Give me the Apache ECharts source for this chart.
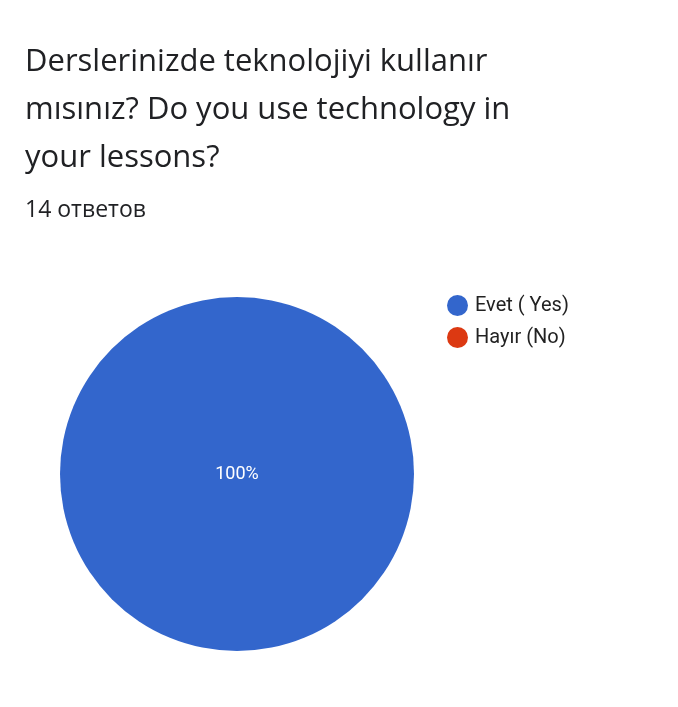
<!DOCTYPE html>
<html>
<head>
<meta charset="utf-8">
<script src="https://cdn.jsdelivr.net/npm/echarts@6/dist/echarts.min.js"></script>
<style>html,body{margin:0;padding:0;background:#fff;}#c{width:678px;height:707px;}</style>
</head>
<body>
<div id="c"></div>
<script>
const titleText = "Derslerinizde teknolojiyi kullanır\nmısınız? Do you use technology in\nyour lessons?";
const subtitleText = "14 ответов";
const categories = ["Evet ( Yes)", "Hayır (No)"];
const values = [14, 0];
const colors = ["#3366cc", "#dc3912"];

const chart = echarts.init(document.getElementById('c'));
chart.setOption({
  animation: false,
  color: colors,
  title: [
    { text: titleText, left: 20, top: 33,
      textStyle: { fontFamily: 'Open Sans', fontSize: 31, fontWeight: 'normal', color: '#202124', lineHeight: 48 } },
    { text: subtitleText, left: 20, top: 194,
      textStyle: { fontFamily: 'Open Sans', fontSize: 23, fontWeight: 'normal', color: '#202124' } }
  ],
  legend: {
    orient: 'vertical', left: 442, top: 290,
    icon: 'circle', itemWidth: 21, itemHeight: 21, itemGap: 11,
    itemStyle: { borderWidth: 0 },
    textStyle: { fontFamily: 'Roboto', fontSize: 20, color: '#222', padding: [0, 0, 0, 2] },
    data: categories
  },
  series: [{
    type: 'pie',
    center: [237, 474],
    radius: 177,
    startAngle: 90,
    label: {
      position: 'center', color: '#fff', fontFamily: 'Roboto', fontSize: 18,
      formatter: p => p.percent > 0 ? Math.round(p.percent) + '%' : ''
    },
    labelLine: { show: false },
    itemStyle: { borderWidth: 0 },
    emphasis: { disabled: true },
    data: categories.map((c, i) => ({ name: c, value: values[i] }))
  }]
});
</script>
</body>
</html>
